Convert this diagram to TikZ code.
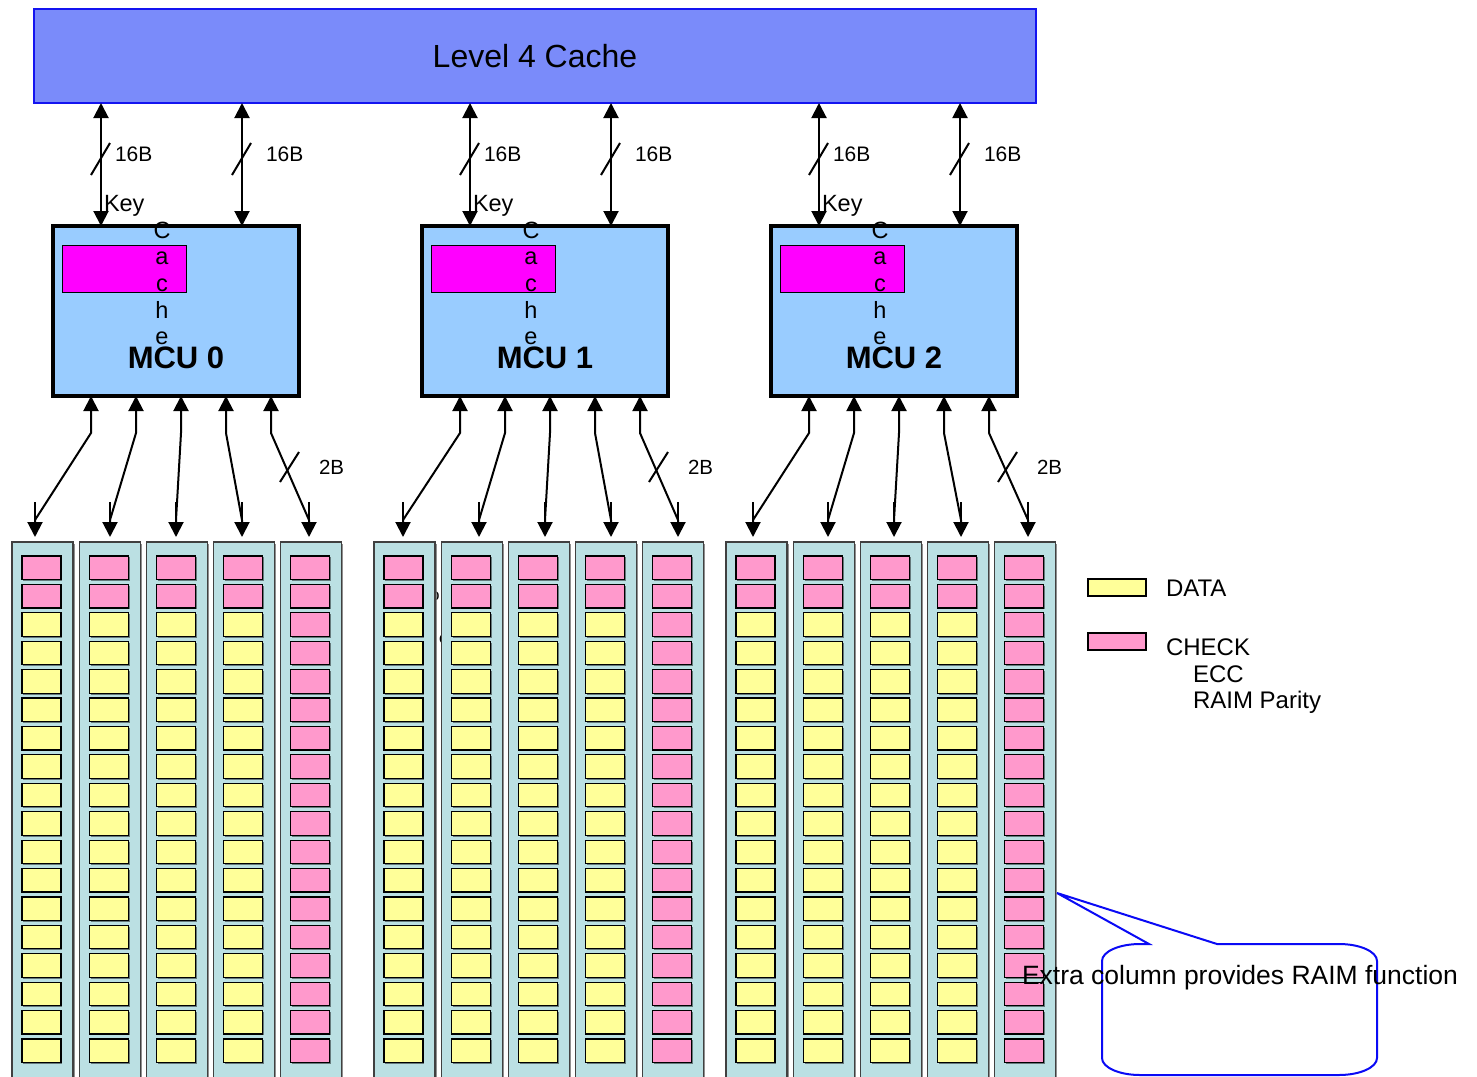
\documentclass[tikz,border=0pt]{standalone}
\usepackage{fontspec}
\setmainfont{Liberation Sans}
\usetikzlibrary{arrows.meta,shadows}

\definecolor{lfourfill}{RGB}{122,139,250}
\definecolor{lfouredge}{RGB}{20,20,240}
\definecolor{mcufill}{RGB}{153,204,255}
\definecolor{keybar}{RGB}{255,0,255}
\definecolor{colfill}{RGB}{187,224,227}
\definecolor{pinkc}{RGB}{255,153,204}
\definecolor{yelc}{RGB}{255,255,153}
\definecolor{callblue}{RGB}{10,10,245}

\tikzset{
  every node/.style={inner sep=0pt, outer sep=0pt},
  conn/.style={line width=2pt},
  biarrow/.style={conn, {Triangle[length=15pt,width=15pt]}-{Triangle[length=15pt,width=15pt]}},
  l4box/.style={draw=lfouredge, line width=2pt, fill=lfourfill,
    minimum width=1002pt, minimum height=94pt, anchor=north west},
  mcubox/.style={draw=black, line width=3.5pt, fill=mcufill,
    minimum width=246pt, minimum height=170pt, anchor=north west},
  cachebar/.style={draw=black, line width=1pt, fill=keybar,
    minimum width=124pt, minimum height=47pt, anchor=north west},
  colbox/.style={draw=black!75, line width=1.2pt, fill=colfill,
    minimum width=61pt, minimum height=560pt, anchor=north west,
    drop shadow={shadow xshift=1.5pt, shadow yshift=-1.5pt, fill=black!55, opacity=0.8}},
  cellbox/.style={draw=black, line width=1.2pt, minimum width=39pt, minimum height=23.5pt,
    anchor=north west,
    drop shadow={shadow xshift=1.4pt, shadow yshift=-1.4pt, fill=black, opacity=0.45}},
  legbox/.style={cellbox, minimum width=58pt, minimum height=17pt},
  smalllab/.style={font=\fontsize{21}{25}\selectfont, anchor=west},
  midlab/.style={font=\fontsize{23.5}{26.7}\selectfont},
  leglab/.style={font=\fontsize{24}{26.5}\selectfont, anchor=west, align=left},
}

\begin{document}
\begin{tikzpicture}[x=1pt, y=-1pt]
\useasboundingbox (0,0) rectangle (1477,1076);
\clip (0,0) rectangle (1477,1076);

% Level 4 cache across the top
\node[l4box] (l4) at (34,9) {\fontsize{32}{38}\selectfont Level 4 Cache};

% memory controllers with their key caches and the 16B links to L4
\foreach \i/\mx in {0/53, 1/422, 2/771} {
  \node[mcubox] (mcu\i) at (\mx,226) {};
  \node[cachebar] (kc\i) at (\mx+9,245) {};
  \node[midlab, align=center] (kct\i) at (\mx+109,283.5) {C\\a\\c\\h\\e};
  \node[font=\fontsize{31}{36}\selectfont\bfseries] (mcut\i) at (\mx+123,358) {MCU \i};
  \node[midlab, anchor=west] (key\i) at (\mx+51,206) {Key};

  \draw[biarrow] ([xshift=\mx+14]l4.south west) -- ([xshift=48]mcu\i.north west);
  \draw[biarrow] ([xshift=\mx+155]l4.south west) -- ([xshift=189]mcu\i.north west);
  \draw[conn] (\mx+38,175) -- (\mx+57,143);
  \draw[conn] (\mx+179,175) -- (\mx+198,143);
  \node[smalllab] (wa\i) at (\mx+62,154) {16B};
  \node[smalllab] (wb\i) at (\mx+213,154) {16B};

  % 2B width mark on the fifth channel
  \draw[conn] (\mx+227,482) -- (\mx+246,452);
  \node[smalllab, font=\fontsize{20.5}{24}\selectfont] (wc\i) at (\mx+266,467) {2B};
}

% stray glyph pieces peeking between the first two DIMM columns of MCU 1
\node[font=\fontsize{16}{19}\selectfont] (fragA) at (435,596) {o};
\node[font=\fontsize{16}{19}\selectfont] (fragB) at (443,639) {c};

% DIMM columns, cells and channel connectors
\foreach \i/\mx/\gx/\ta/\tb/\tc/\td/\te in
   {0/53/12/35/110/176/242/309,
    1/422/374/403/479/545/611/678,
    2/771/726/753/828/894/961/1028} {
  \foreach \k/\t in {0/\ta, 1/\tb, 2/\tc, 3/\td, 4/\te} {
    \pgfmathsetmacro\cx{\gx+67.2*\k}
    \node[colbox] (col\i-\k) at (\cx,542) {};
    \foreach \r in {0,...,17} {
      \ifnum\k=4 \def\cc{pinkc}\else\ifnum\r<2 \def\cc{pinkc}\else\def\cc{yelc}\fi\fi
      \node[cellbox, fill=\cc] (cell\i-\k-\r) at (\cx+10,{556+28.41*\r}) {};
    }
    \draw[biarrow] ([xshift=38+45*\k]mcu\i.south west) -- ++(0,37)
      -- ([xshift=\t-\cx, yshift=22]col\i-\k.north west)
      -- ([xshift=\t-\cx, yshift=5]col\i-\k.north west);
    \draw[conn] ([xshift=\t-\cx, yshift=40]col\i-\k.north west) -- ++(0,18);
  }
}

% legend
\node[legbox, fill=yelc] (legdata) at (1088,579) {};
\node[leglab] (legdatat) at (1166,588) {DATA};
\node[legbox, fill=pinkc] (legcheck) at (1088,633) {};
\node[leglab] (legcheckt) at (1166,676.5) {CHECK\\\hspace*{27pt}ECC\\\hspace*{27pt}RAIM Parity};

% callout for the extra column
\coordinate (calltip) at (1057,893);
\draw[draw=callblue, line width=2pt, fill=white, line join=miter]
  (1149,944) -- (calltip) -- (1217,944) -- (1339,944)
  arc (90:0:38pt and 17pt) -- (1377,1058)
  arc (0:-90:38pt and 17pt) -- (1140,1075)
  arc (-90:-180:38pt and 17pt) -- (1102,961)
  arc (180:90:38pt and 17pt) -- cycle;
\node[font=\fontsize{26.5}{31}\selectfont] (callt) at (1240,978) {Extra column provides RAIM function};
\end{tikzpicture}
\end{document}
